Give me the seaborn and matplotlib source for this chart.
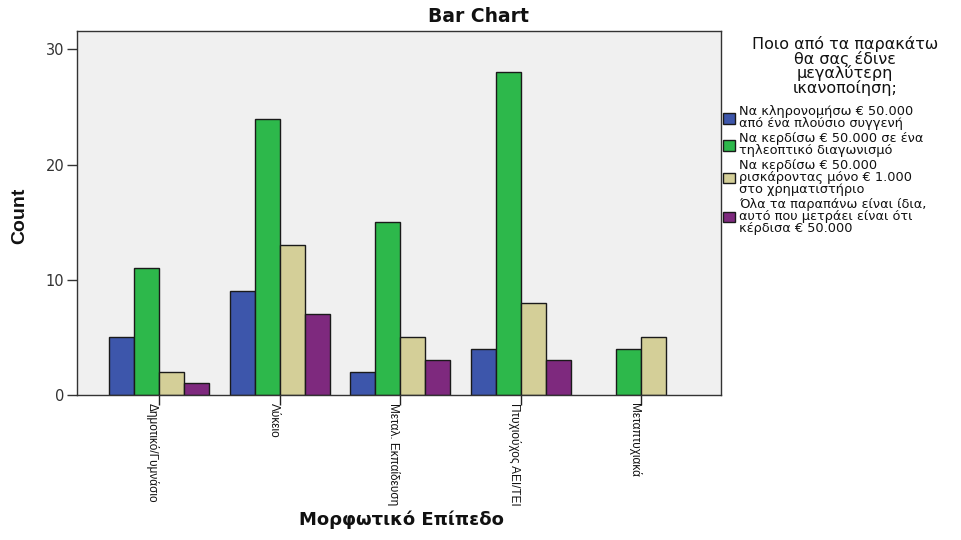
import matplotlib
matplotlib.use("Agg")
import matplotlib.pyplot as plt
import seaborn as sns
import pandas as pd
import numpy as np

education = ["Δημοτικό/Γυμνάσιο", "Λύκειο", "Μεταλ. Εκπαίδευση", "Πτυχιούχος ΑΕΙ/ΤΕΙ", "Μεταπτυχιακά"]
preferences = [
    "Να κληρονομήσω € 50.000\nαπό ένα πλούσιο συγγενή",
    "Να κερδίσω € 50.000 σε ένα\nτηλεοπτικό διαγωνισμό",
    "Να κερδίσω € 50.000\nρισκάροντας μόνο € 1.000\nστο χρηματιστήριο",
    "Όλα τα παραπάνω είναι ίδια,\nαυτό που μετράει είναι ότι\nκέρδισα € 50.000",
]
legend_title = "Ποιο από τα παρακάτω\nθα σας έδινε\nμεγαλύτερη\nικανοποίηση;"
inherit = [5, 9, 2, 4, np.nan]
tv_show = [11, 24, 15, 28, 4]
stocks = [2, 13, 5, 8, 5]
all_same = [1, 7, 3, 3, np.nan]
colors = ["#3d56ab", "#2db84b", "#d4cf98", "#7e297e"]
yticks = [0, 10, 20, 30]

rows = []
for pref, vals in zip(preferences, [inherit, tv_show, stocks, all_same]):
    for edu, v in zip(education, vals):
        rows.append({"edu": edu, "pref": pref, "count": v})
df = pd.DataFrame(rows)

fig = plt.figure(figsize=(9.62, 5.4), dpi=100)
ax = fig.add_axes([77/962, 1-395/540, (721-77)/962, (395-31)/540])
ax.set_facecolor("#f0f0f0")

sns.barplot(data=df, x="edu", y="count", hue="pref", order=education, hue_order=preferences,
            palette=colors, edgecolor="#1a1a1a", linewidth=1.0, width=0.83, gap=0,
            saturation=1, ax=ax, legend=True)

ax.set_xlim(-0.68, 4.66)
ax.set_ylim(0, 31.6)
ax.set_yticks(yticks)
ax.set_yticklabels([str(t) for t in yticks], fontsize=10.5, color="#333333", family="DejaVu Sans")
for s in ax.spines.values():
    s.set_color("#333333")
    s.set_linewidth(1.0)
ax.tick_params(axis="y", direction="out", length=7, width=1, color="#333333", pad=2)
ax.tick_params(axis="x", direction="out", length=7, width=1, color="#222222", pad=-1)
ax.set_xticks(range(len(education)))
ax.set_xticklabels(education, rotation=-90, ha="right", va="top", fontsize=8.5,
                   family=["Liberation Sans Narrow", "Liberation Sans"], color="#111111")

ax.set_xlabel("")
ax.set_ylabel("")
fig.text(401/962, 1-520/540, "Μορφωτικό Επίπεδο", fontsize=13, fontweight="bold",
         family="DejaVu Sans", ha="center", va="center", color="#111111")
fig.text(20/962, 1-216/540, "Count", fontsize=14, fontweight="bold", rotation=90,
         family="Liberation Sans", ha="center", va="center", color="#111111")
fig.text(478/962, 1-16/540, "Bar Chart", fontsize=13.5, fontweight="bold",
         family="DejaVu Sans", ha="center", va="center", color="#111111")
fig.text(845/962, 1-66/540, legend_title, fontsize=11.5, family="DejaVu Sans",
         ha="center", va="center", multialignment="center", linespacing=0.88, color="#111111")

handles, labels = ax.get_legend_handles_labels()
leg = ax.legend(handles, labels,
                loc="upper left", bbox_to_anchor=(722/962, 1-104/540), bbox_transform=fig.transFigure,
                frameon=False,
                handlelength=0.9, handleheight=0.9, handletextpad=0.3, labelspacing=0.12,
                borderaxespad=0, borderpad=0.1,
                prop={"family": "DejaVu Sans", "size": 9.3})
for t in leg.get_texts():
    t.set_linespacing(0.92)
    t.set_color("#111111")

fig.savefig("out.png", dpi=100)
